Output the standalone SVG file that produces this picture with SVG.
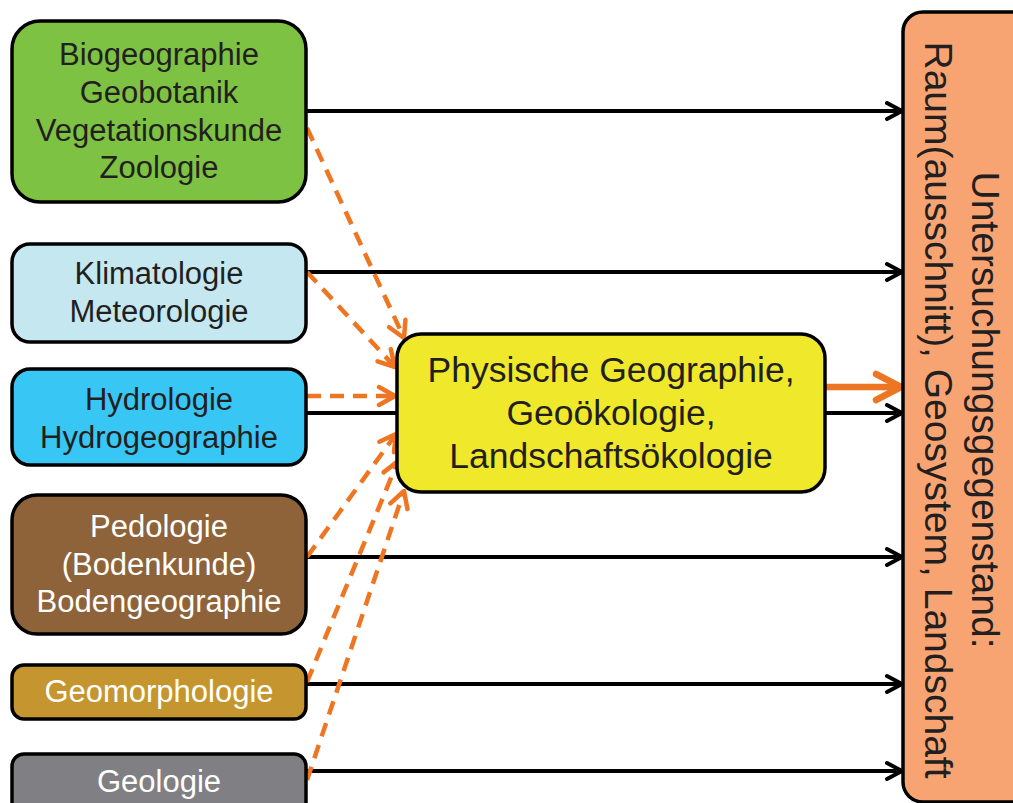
<svg xmlns="http://www.w3.org/2000/svg" width="1013" height="803" viewBox="0 0 1013 803">
  <style>
    .box { stroke: #000; stroke-width: 3.5; }
    .t { font-family: "Liberation Sans", Arial, sans-serif; font-size: 31px; text-anchor: middle; fill: #231f20; }
    .w { fill: #ffffff; }
    .c { font-family: "Liberation Sans", Arial, sans-serif; font-size: 35.5px; text-anchor: middle; fill: #231f20; }
    .r { font-family: "Liberation Sans", Arial, sans-serif; font-size: 39px; text-anchor: middle; fill: #231f20; }
    .solid { stroke: #000; stroke-width: 4; fill: none; marker-end: url(#ab); }
    .dash { stroke: #ee7623; stroke-width: 4.5; fill: none; stroke-dasharray: 14 9; marker-end: url(#ao); }
  </style>
  <defs>
    <marker id="ab" markerUnits="userSpaceOnUse" viewBox="-20 -12 22 24" refX="0" refY="0" markerWidth="22" markerHeight="24" orient="auto">
      <path d="M-15,-8 L0,0 L-15,8" fill="none" stroke="#000" stroke-width="4" stroke-linecap="round" stroke-linejoin="round"/>
    </marker>
    <marker id="ao" markerUnits="userSpaceOnUse" viewBox="-20 -12 22 24" refX="0" refY="0" markerWidth="22" markerHeight="24" orient="auto">
      <path d="M-16,-9 L0,0 L-16,9" fill="none" stroke="#ee7623" stroke-width="4.5" stroke-linecap="round" stroke-linejoin="round"/>
    </marker>
    <marker id="aoBig" markerUnits="userSpaceOnUse" viewBox="-30 -18 34 36" refX="0" refY="0" markerWidth="34" markerHeight="36" orient="auto">
      <path d="M-25,-13 L0,0 L-25,13" fill="none" stroke="#ee7623" stroke-width="6.5" stroke-linecap="round" stroke-linejoin="round"/>
    </marker>
  </defs>

  <g id="connectors">
    <line class="solid" x1="306" y1="111" x2="902" y2="111"/>
    <line class="solid" x1="306" y1="272" x2="902" y2="272"/>
    <line class="solid" x1="306" y1="413" x2="902" y2="413"/>
    <line class="solid" x1="306" y1="557" x2="902" y2="557"/>
    <line class="solid" x1="306" y1="684" x2="902" y2="684"/>
    <line class="solid" x1="306" y1="771" x2="902" y2="771"/>
    <line x1="826" y1="387" x2="901" y2="387" stroke="#ee7623" stroke-width="6.5" marker-end="url(#aoBig)"/>
    <line class="dash" x1="307" y1="128" x2="404" y2="338"/>
    <line class="dash" x1="307" y1="272" x2="395" y2="367"/>
    <line class="dash" x1="307" y1="396" x2="395" y2="396"/>
    <line class="dash" x1="307" y1="557" x2="396" y2="434"/>
    <line class="dash" x1="307" y1="682" x2="398" y2="461"/>
    <line class="dash" x1="307" y1="780" x2="404" y2="491"/>
  </g>

  <g id="biogeographie">
    <rect class="box" x="12" y="21" width="294" height="181" rx="28" fill="#7dc243"/>
    <text class="t" x="159" y="65">Biogeographie</text>
    <text class="t" x="159" y="103">Geobotanik</text>
    <text class="t" x="159" y="141">Vegetationskunde</text>
    <text class="t" x="159" y="178">Zoologie</text>
  </g>

  <g id="klimatologie">
    <rect class="box" x="12" y="244" width="294" height="98" rx="18" fill="#c5e8f0"/>
    <text class="t" x="159" y="284">Klimatologie</text>
    <text class="t" x="159" y="322">Meteorologie</text>
  </g>

  <g id="hydrologie">
    <rect class="box" x="12" y="369" width="294" height="96" rx="18" fill="#38c6f4"/>
    <text class="t" x="159" y="410">Hydrologie</text>
    <text class="t" x="159" y="448">Hydrogeographie</text>
  </g>

  <g id="pedologie">
    <rect class="box" x="12" y="495" width="294" height="139" rx="25" fill="#8f6339"/>
    <text class="t w" x="159" y="537">Pedologie</text>
    <text class="t w" x="159" y="575">(Bodenkunde)</text>
    <text class="t w" x="159" y="612">Bodengeographie</text>
  </g>

  <g id="geomorphologie">
    <rect class="box" x="12" y="665" width="294" height="54" rx="12" fill="#c5962f"/>
    <text class="t w" x="159" y="702">Geomorphologie</text>
  </g>

  <g id="geologie">
    <rect class="box" x="12" y="754" width="294" height="80" rx="12" fill="#808084"/>
    <text class="t w" x="159" y="792">Geologie</text>
  </g>

  <g id="physische-geographie">
    <rect class="box" x="397" y="334" width="428" height="158" rx="24" fill="#f0e82a"/>
    <text class="c" x="611" y="382">Physische Geographie,</text>
    <text class="c" x="611" y="425">Geoökologie,</text>
    <text class="c" x="611" y="468">Landschaftsökologie</text>
  </g>

  <g id="untersuchungsgegenstand">
    <rect class="box" x="903" y="12" width="130" height="790" rx="20" fill="#f7a472"/>
    <text class="r" transform="translate(972,410) rotate(90)" x="0" y="0">Untersuchungsgegenstand:</text>
    <text class="r" transform="translate(925,410) rotate(90)" x="0" y="0">Raum(ausschnitt), Geosystem, Landschaft</text>
  </g>
</svg>
